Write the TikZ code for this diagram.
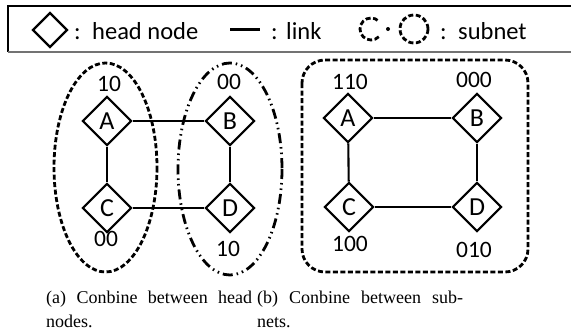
\documentclass[tikz,border=0pt]{standalone}
\usepackage{fontspec}
\setmainfont{Liberation Serif}
\newfontfamily\calfont{Carlito}
\usetikzlibrary{shapes.geometric}
\begin{document}
\begin{tikzpicture}[x=1pt,y=-1pt,
 hn/.style={diamond, draw, line width=2.1pt, minimum width=49pt, minimum height=49pt, inner sep=0pt, font=\calfont\fontsize{26}{26}\selectfont},
 lbl/.style={font=\calfont\fontsize{23.5}{23.5}\selectfont, inner sep=0pt},
 lnk/.style={line width=2.1pt},
 dsh/.style={line width=2.8pt, dash pattern=on 5pt off 2.5pt},
 ddot/.style={line width=2.8pt, dash pattern=on 10pt off 4pt on 1.5pt off 4pt on 1.5pt off 4pt},
 leg/.style={font=\calfont\fontsize{24.5}{24.5}\selectfont, inner sep=0pt, anchor=base west},
 capt/.style={font=\fontsize{18}{24}\selectfont, inner sep=0pt, anchor=north west, text width=206pt, align=justify}
]
\useasboundingbox (0,0) rectangle (571,335);
% legend box
\draw[line width=1.2pt] (575,6) -- (8,6) -- (8,52);
\draw[black!55, line width=2.5pt] (8,52) -- (575,52);
\node[diamond, draw, line width=2.2pt, minimum width=35pt, minimum height=35pt, inner sep=0pt] (legd) at (50,30) {};
\node[leg] (legc1) at (74,39) {:};
\node[leg] (legt1) at (92,39) {head node};
\coordinate (l1) at (230,29);
\coordinate (l2) at (260,29);
\draw[line width=3pt] (l1) -- (l2);
\node[leg] (legc2) at (271,39) {:};
\node[leg] (legt2) at (286,39) {link};
\coordinate (s1) at (371,29);
\coordinate (s2) at (388,29);
\coordinate (s3) at (414,29);
\draw[dsh] ([shift={(45:11)}]s1) arc[start angle=45, end angle=315, radius=11];
\fill (s2) circle (2);
\draw[dsh] (s3) circle (14);
\node[leg] (legc3) at (440,39) {:};
\node[leg] (legt3) at (458,39) {subnet};
% panel (a)
\draw[dsh] (105.5,167.5) ellipse [x radius=51.5, y radius=104.5];
\draw[ddot] (230,169) ellipse [x radius=52, y radius=106];
\node[hn] (a1) at (107,121) {A};
\node[hn] (b1) at (230,121) {B};
\node[hn] (c1) at (107,208) {C};
\node[hn] (d1) at (230,208) {D};
\draw[lnk] (a1) -- (b1);
\draw[lnk] (c1) -- (d1);
\draw[lnk] (a1) -- (c1);
\draw[lnk] (b1) -- (d1);
\node[lbl] (la1) at (109,84) {10};
\node[lbl] (lb1) at (229,82) {00};
\node[lbl] (lc1) at (106,239) {00};
\node[lbl] (ld1) at (228,249) {10};
% panel (b)
\draw[dsh, rounded corners=23pt] (302,60) rectangle (528,272);
\node[hn] (a2) at (348,118) {A};
\node[hn] (b2) at (477,118) {B};
\node[hn] (c2) at (349,207) {C};
\node[hn] (d2) at (477,207) {D};
\draw[lnk] (a2) -- (b2);
\draw[lnk] (c2) -- (d2);
\draw[lnk] (a2) -- (c2);
\draw[lnk] (b2) -- (d2);
\node[lbl] (la2) at (350,82) {110};
\node[lbl] (lb2) at (474,80) {000};
\node[lbl] (lc2) at (350,244) {100};
\node[lbl] (ld2) at (474,250) {010};
% captions
\node[capt] (capa) at (46,291) {(a) Conbine between head nodes.};
\node[capt] (capb) at (257,291) {(b) Conbine between sub-\linebreak nets.};
\end{tikzpicture}
\end{document}
